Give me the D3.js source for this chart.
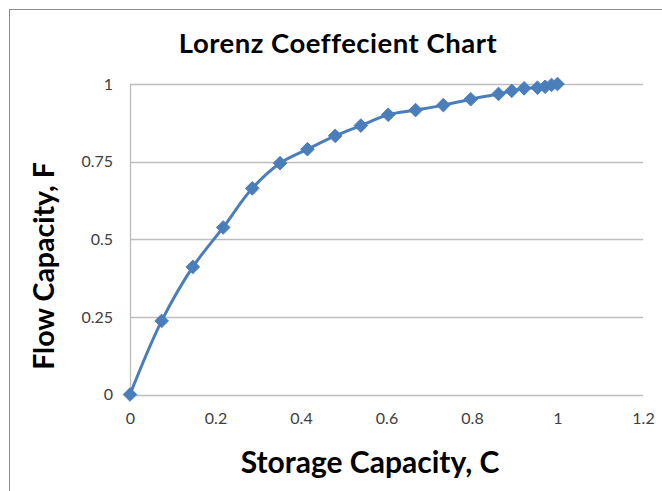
<!DOCTYPE html>
<html>
<head>
<meta charset="utf-8">
<script src="https://cdn.jsdelivr.net/npm/d3@7"></script>
<style>
  html, body { margin: 0; padding: 0; background: #fff; }
  svg { display: block; }
  text { font-family: Lato, "Open Sans", sans-serif; }
</style>
</head>
<body>
<svg id="chart" width="662" height="491"></svg>
<script>
// Lorenz plot: cumulative storage capacity (C) vs cumulative flow capacity (F)
const storageC = [0, 0.074, 0.147, 0.218, 0.286, 0.351, 0.415, 0.48, 0.54, 0.604,
                  0.668, 0.733, 0.797, 0.862, 0.893, 0.922, 0.953, 0.971, 0.986, 1.0];
const flowF    = [0, 0.237, 0.411, 0.538, 0.664, 0.745, 0.790, 0.833, 0.866, 0.901,
                  0.916, 0.932, 0.951, 0.968, 0.978, 0.986, 0.988, 0.991, 0.997, 1.0];
const xTicks = [0, 0.2, 0.4, 0.6, 0.8, 1, 1.2];
const yTicks = [0, 0.25, 0.5, 0.75, 1];

const title  = "Lorenz Coeffecient Chart";
const xTitle = "Storage Capacity, C";
const yTitle = "Flow Capacity, F";

const points = storageC.map((c, i) => ({ c, f: flowF[i] }));

const svg = d3.select("#chart");
const plot = { left: 130, right: 643, top: 84, bottom: 394.5 };

const x = d3.scaleLinear().domain([0, 1.2]).range([plot.left, plot.right]);
const y = d3.scaleLinear().domain([0, 1]).range([plot.bottom, plot.top]);

// chart frame
svg.append("rect")
  .attr("x", 9.5).attr("y", 9.5)
  .attr("width", 700).attr("height", 600)
  .attr("fill", "#fff")
  .attr("stroke", "#8c8c8c").attr("stroke-width", 1);

// horizontal gridlines
svg.append("g")
  .selectAll("line")
  .data(yTicks)
  .join("line")
  .attr("x1", plot.left).attr("x2", plot.right)
  .attr("y1", d => Math.round(y(d)) + 0.5).attr("y2", d => Math.round(y(d)) + 0.5)
  .attr("stroke", "#bdbdbd").attr("stroke-width", 1.3);

// y axis
const yAxis = svg.append("g")
  .attr("transform", `translate(${plot.left},0)`)
  .call(d3.axisLeft(y).tickValues(yTicks).tickSize(0).tickPadding(17)
        .tickFormat(d => String(d)));
yAxis.select(".domain").attr("stroke", "#bdbdbd").attr("stroke-width", 1.3);
yAxis.selectAll("text").attr("font-size", 16).attr("fill", "#404040");

// x axis
const xAxis = svg.append("g")
  .attr("transform", `translate(0,${plot.bottom})`)
  .call(d3.axisBottom(x).tickValues(xTicks).tickSize(0).tickPadding(18)
        .tickFormat(d => String(d)));
xAxis.select(".domain").remove();
xAxis.selectAll("text").attr("font-size", 16).attr("fill", "#404040");

// smoothed series line
const line = d3.line()
  .x(d => x(d.c))
  .y(d => y(d.f))
  .curve(d3.curveCatmullRom.alpha(0.5));

svg.append("path")
  .datum(points)
  .attr("d", line)
  .attr("fill", "none")
  .attr("stroke", "#4a7ebb")
  .attr("stroke-width", 3)
  .attr("stroke-linejoin", "round");

// diamond markers
const diamond = d3.symbol().type(d3.symbolDiamond2).size(118);
svg.append("g")
  .selectAll("path")
  .data(points)
  .join("path")
  .attr("transform", d => `translate(${x(d.c)},${y(d.f)})`)
  .attr("d", diamond)
  .attr("fill", "#4a7ebb")
  .attr("stroke", "#4a7ebb").attr("stroke-width", 1);

// titles
svg.append("text")
  .attr("x", 338).attr("y", 53)
  .attr("text-anchor", "middle")
  .attr("font-size", 27.5).attr("font-weight", "bold").attr("fill", "#000")
  .attr("letter-spacing", 0.5)
  .text(title);

svg.append("text")
  .attr("x", 370).attr("y", 473)
  .attr("text-anchor", "middle")
  .attr("font-size", 30).attr("font-weight", "bold").attr("fill", "#000")
  .text(xTitle);

svg.append("text")
  .attr("transform", "translate(54,266) rotate(-90)")
  .attr("text-anchor", "middle")
  .attr("font-size", 28.5).attr("font-weight", "bold").attr("fill", "#000")
  .text(yTitle);
</script>
</body>
</html>
